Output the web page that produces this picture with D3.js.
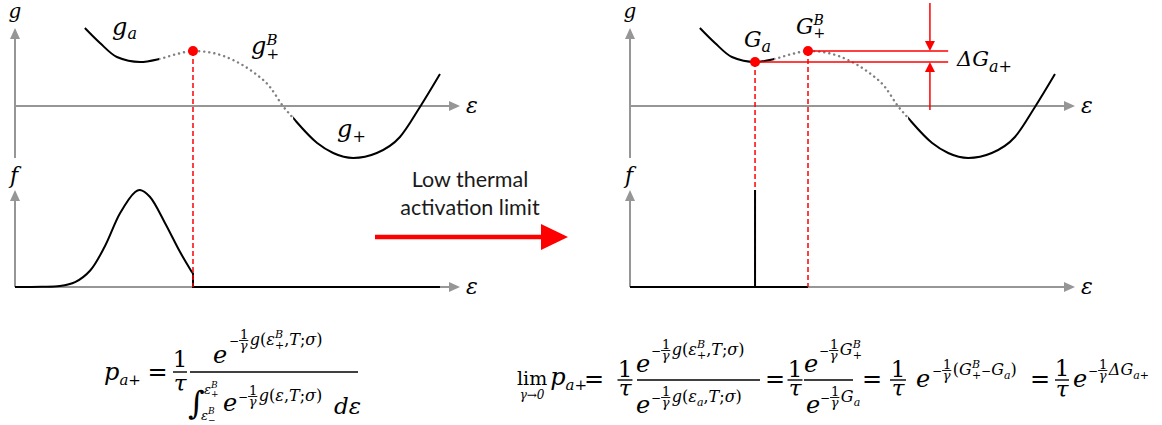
<!DOCTYPE html>
<html><head><meta charset="utf-8">
<script src="https://cdn.jsdelivr.net/npm/d3@7"></script>
<style>
html,body{margin:0;padding:0;background:#fff;}
svg{display:block;}
.m{font-family:"DejaVu Serif","Liberation Serif",serif;}
.s{font-family:Lato,"Open Sans",sans-serif;}
</style></head><body>
<svg id="fig" width="1162" height="425"></svg>
<script>
// Free-energy landscape g(ε), sampled along the curve as (ε, g)
const gCurve = [[1.57,7.8],[1.91,6.3],[2.29,4.9],[2.81,4.4],[3.24,4.7],[3.64,5.2],[4.0,5.5],[4.45,5.3],[4.9,4.6],
  [5.35,3.4],[5.73,1.9],[6.02,0],[6.25,-1.2],[6.79,-3.7],[7.15,-4.7],[7.6,-5.2],[8.13,-4.7],[8.65,-3.1],[9.1,-0.1],[9.55,3.2]];
// ε ranges drawn solid (the two wells) and dotted (the barrier)
const solidRanges = [[1.5, 3.24], [6.25, 9.6]];
const dottedRange = [3.24, 6.25];
// Distribution f(ε) at finite temperature, cut off at the barrier
const fDensity = [[0,0],[0.6,0.002],[1.01,0.01],[1.35,0.05],[1.69,0.17],[2.02,0.42],[2.36,0.76],[2.70,0.98],
  [2.81,1.0],[3.03,0.93],[3.37,0.66],[3.71,0.36],[3.98,0.15]];
const fTail = [[3.98,0.15],[4.0,0.14],[4.0,0],[9.55,0]];
// Well minimum (G_a), barrier top (G_+^B) and the delta spike height
const stateA = [2.81, 4.4];
const saddle = [4.0, 5.5];
const spikeHeight = 1.0;
// Axis extents
const epsMax = 10, gLow = -5.2, gHigh = 7.8, fHigh = 1.0;
const panelLeft = [15, 630];

const svg = d3.select("#fig");
const GRAY = "#969696", RED = "#ff0000";

const yG = d3.scaleLinear().domain([-6, 8]).range([166, 26]);
const yF = d3.scaleLinear().domain([0, 1]).range([287, 190]);
const defs = svg.append("defs");

function arrow(g, x1, y1, x2, y2, color, w, len, half) {
  const dx = x2 - x1, dy = y2 - y1, L = Math.hypot(dx, dy);
  const ux = dx / L, uy = dy / L;
  const bx = x2 - ux * len, by = y2 - uy * len;
  g.append("line").attr("x1", x1).attr("y1", y1).attr("x2", bx + ux).attr("y2", by + uy)
    .attr("stroke", color).attr("stroke-width", w);
  g.append("path")
    .attr("d", `M${x2},${y2}L${bx - uy * half},${by + ux * half}L${bx + uy * half},${by - ux * half}Z`)
    .attr("fill", color);
}

function txt(g, x, y, s, size, opt = {}) {
  return g.append("text").attr("class", opt.sans ? "s" : "m").attr("x", x).attr("y", y)
    .attr("font-size", size).attr("font-style", opt.up ? "normal" : "italic")
    .attr("text-anchor", opt.anchor || "start").attr("fill", opt.fill || "#000").text(s);
}
const W = sel => sel.node().getComputedTextLength();

// Lays out a row of math pieces left to right from (x, y)
function run(g, x, y, items) {
  let cx = x;
  items.forEach(it => {
    if (it.gap) { cx += it.gap; return; }
    if (it.frac) {
      const [n, d] = it.frac, s = it.s, bar = y - it.axis;
      const tn = txt(g, 0, bar - 1.5, n, s, { up: true, anchor: "middle" });
      const td = txt(g, 0, bar + s * 0.7, d, s, { anchor: "middle" });
      const w = Math.max(W(tn), W(td)) + 1;
      tn.attr("x", cx + w / 2 + 0.5); td.attr("x", cx + w / 2);
      g.append("line").attr("x1", cx).attr("x2", cx + w).attr("y1", bar).attr("y2", bar)
        .attr("stroke", "#000").attr("stroke-width", 0.9);
      cx += w + 1.5; return;
    }
    if (it.sup != null || it.sub != null) {
      let w = 0;
      if (it.sup != null) w = Math.max(w, W(txt(g, cx, y + it.supDy, it.sup, it.s, { up: it.supUp })));
      if (it.sub != null) w = Math.max(w, W(txt(g, cx, y + it.subDy, it.sub, it.s, { up: it.subUp })));
      cx += w; return;
    }
    const t = txt(g, cx, y + (it.dy || 0), it.t, it.s, { up: it.up });
    cx += W(t) + (it.after || 0);
  });
  return cx;
}
function hbar(g, x1, x2, y, w = 1.4) {
  g.append("line").attr("x1", x1).attr("x2", x2).attr("y1", y).attr("y2", y)
    .attr("stroke", "#000").attr("stroke-width", w);
}
function oneOverTau(g, cx, barY, half, numBase, denBase, size) {
  txt(g, cx, numBase, "1", size, { up: true, anchor: "middle" });
  hbar(g, cx - half, cx + half, barY);
  txt(g, cx, denBase, "τ", size, { anchor: "middle" });
}

// ---------- the two landscape panels ----------
panelLeft.forEach((x0, i) => {
  const g = svg.append("g");
  const x = d3.scaleLinear().domain([0, 10]).range([x0, x0 + 445]);
  const lineG = d3.line().x(d => x(d[0])).y(d => yG(d[1])).curve(d3.curveMonotoneX);
  const lineF = d3.line().x(d => x(d[0])).y(d => yF(d[1])).curve(d3.curveCatmullRom.alpha(0.5));
  const lineLin = d3.line().x(d => x(d[0])).y(d => yF(d[1]));

  // axes
  arrow(g, x0, yG(gLow), x0, yG(gHigh), GRAY, 2, 11, 5);
  arrow(g, x0, yG(0), x(epsMax), yG(0), GRAY, 2, 11, 5);
  arrow(g, x0, yF(0), x0, yF(fHigh), GRAY, 2, 11, 5);
  arrow(g, x0, yF(0), x(epsMax), yF(0), GRAY, 2, 11, 5);

  txt(g, x0, 18, "g", 20, { anchor: "middle" });
  txt(g, x0 - 1, 183, "f", 22, { anchor: "middle" });
  txt(g, x(epsMax) + 6, 113, "ε", 22);
  txt(g, x(epsMax) + 6, 294, "ε", 22);

  // g(ε) curve: one smooth path, clipped into solid wells and a dotted barrier
  const clipRect = (id, r) => defs.append("clipPath").attr("id", id).append("rect")
    .attr("x", x(r[0])).attr("width", x(r[1]) - x(r[0])).attr("y", 0).attr("height", 200);
  solidRanges.forEach((r, k) => {
    clipRect(`solid${i}${k}`, r);
    g.append("path").attr("d", lineG(gCurve)).attr("clip-path", `url(#solid${i}${k})`)
      .attr("fill", "none").attr("stroke", "#000").attr("stroke-width", 2);
  });
  clipRect(`dot${i}`, dottedRange);
  g.append("path").attr("d", lineG(gCurve)).attr("clip-path", `url(#dot${i})`).attr("fill", "none")
    .attr("stroke", "#808080").attr("stroke-width", 2.4).attr("stroke-linecap", "round")
    .attr("stroke-dasharray", "0.1,5");

  if (i === 0) {
    // f(ε): truncated bell
    g.append("path").attr("d", lineF(fDensity)).attr("fill", "none").attr("stroke", "#000").attr("stroke-width", 2);
    g.append("path").attr("d", lineLin(fTail)).attr("fill", "none").attr("stroke", "#000").attr("stroke-width", 2);
    g.append("line").attr("x1", x(saddle[0])).attr("x2", x(saddle[0]))
      .attr("y1", yG(saddle[1])).attr("y2", yF(0))
      .attr("stroke", RED).attr("stroke-width", 1.5).attr("stroke-dasharray", "5,3");
    g.append("circle").attr("cx", x(saddle[0])).attr("cy", yG(saddle[1])).attr("r", 5).attr("fill", RED);

    run(g, 112, 35, [{ t: "g", s: 24 }, { t: "a", s: 16, dy: 4 }]);
    run(g, 251, 54, [{ t: "g", s: 24 }, { sup: "B", sub: "+", s: 15, supDy: -9, subDy: 5, subUp: true }]);
    run(g, 337, 137, [{ t: "g", s: 24 }, { t: "+", s: 16, dy: 5, up: true }]);
  } else {
    // f(ε) collapses to a spike at the well minimum
    g.append("path").attr("d", lineLin([[0, 0], [saddle[0], 0]])).attr("fill", "none").attr("stroke", "#000").attr("stroke-width", 2);

    // reference levels and ΔG arrows
    const xEnd = x(7.15), xArr = x(6.74);
    [stateA, saddle].forEach(p => {
      g.append("line").attr("x1", x(p[0])).attr("x2", xEnd).attr("y1", yG(p[1])).attr("y2", yG(p[1]))
        .attr("stroke", RED).attr("stroke-width", 1.5);
      g.append("line").attr("x1", x(p[0])).attr("x2", x(p[0]))
        .attr("y1", yG(p[1])).attr("y2", yF(0))
        .attr("stroke", RED).attr("stroke-width", 1.5).attr("stroke-dasharray", "5,3");
    });
    g.append("line").attr("x1", x(stateA[0])).attr("x2", x(stateA[0]))
      .attr("y1", yF(0)).attr("y2", yF(spikeHeight)).attr("stroke", "#000").attr("stroke-width", 2);
    arrow(g, xArr, 3, xArr, yG(saddle[1]), RED, 1.5, 10, 5);
    arrow(g, xArr, yG(-0.4), xArr, yG(stateA[1]), RED, 1.5, 10, 5);
    [stateA, saddle].forEach(p => g.append("circle").attr("cx", x(p[0])).attr("cy", yG(p[1])).attr("r", 5).attr("fill", RED));

    run(g, 744, 47, [{ t: "G", s: 22 }, { t: "a", s: 16, dy: 5 }]);
    run(g, 796, 34, [{ t: "G", s: 22 }, { sup: "B", sub: "+", s: 14, supDy: -9, subDy: 4, subUp: true }]);
    run(g, 957, 66, [{ t: "Δ", s: 21 }, { t: "G", s: 21 }, { t: "a", s: 16, dy: 6 }, { t: "+", s: 16, dy: 6, up: true }]);
  }
});

// ---------- transition arrow ----------
const mid = svg.append("g");
txt(mid, 470, 187, "Low thermal", 21.5, { up: true, anchor: "middle", sans: true, fill: "#1a1a1a" });
txt(mid, 470, 215, "activation limit", 21.5, { up: true, anchor: "middle", sans: true, fill: "#1a1a1a" });
arrow(mid, 375, 237, 568, 237, RED, 4.5, 27, 13);

// ---------- formulas ----------
const F = svg.append("g");
const minus = s => ({ t: "−", s, up: true });
const oneGamma = { frac: ["1", "γ"], s: 13, axis: 4.5 };
const S = 16, SS = 11;

// p_{a+} = 1/τ · e^{-g(ε_+^B)/γ} / ∫ e^{-g(ε)/γ} dε
run(F, 104, 380, [{ t: "p", s: 24 }, { t: "a", s: 15, dy: 5 }, { t: "+", s: 15, dy: 5, up: true }]);
txt(F, 157.5, 380, "=", 24, { up: true, anchor: "middle" });
oneOverTau(F, 180, 372, 7, 367, 391, 23);
hbar(F, 190, 358, 372);
txt(F, 213, 363, "e", 24);
run(F, 229, 345, [minus(12), oneGamma, { t: "g", s: S }, { t: "(", s: S, up: true }, { t: "ε", s: S },
  { sup: "B", sub: "+", s: SS, supDy: -7, subDy: 4, subUp: true }, { t: ",", s: S, up: true }, { t: "T", s: S },
  { t: ";", s: S, up: true }, { t: "σ", s: S }, { t: ")", s: S, up: true }]);
txt(F, 188, 414, "∫", 32, { up: true });
run(F, 204, 394, [{ t: "ε", s: 13 }, { sup: "B", sub: "+", s: 9, supDy: -6, subDy: 3, subUp: true }]);
run(F, 201, 420, [{ t: "ε", s: 13 }, { sup: "B", sub: "−", s: 9, supDy: -6, subDy: 3, subUp: true }]);
txt(F, 223, 411, "e", 24);
run(F, 238, 401, [minus(12), oneGamma, { t: "g", s: S }, { t: "(", s: S, up: true }, { t: "ε", s: S },
  { t: ",", s: S, up: true }, { t: "T", s: S }, { t: ";", s: S, up: true }, { t: "σ", s: S }, { t: ")", s: S, up: true }]);
txt(F, 334, 414, "dε", 23);

// lim_{γ→0} p_{a+} = ... = 1/τ e^{-ΔG_{a+}/γ}
const limEnd = run(F, 517, 385, [{ t: "lim", s: 19, up: true }]);
txt(F, (517 + limEnd) / 2, 399, "γ→0", 12, { anchor: "middle" });
run(F, Math.max(546, limEnd + 3), 385, [{ t: "p", s: 24 }, { t: "a", s: 15, dy: 5 }, { t: "+", s: 15, dy: 5, up: true }]);
txt(F, 594, 387, "=", 24, { up: true, anchor: "middle" });
oneOverTau(F, 625, 380, 7.5, 377, 396, 23);
hbar(F, 637, 760, 380);
txt(F, 636, 372, "e", 24);
run(F, 651, 355, [minus(12), oneGamma, { t: "g", s: S }, { t: "(", s: S, up: true }, { t: "ε", s: S },
  { sup: "B", sub: "+", s: SS, supDy: -7, subDy: 4, subUp: true }, { t: ",", s: S, up: true }, { t: "T", s: S },
  { t: ";", s: S, up: true }, { t: "σ", s: S }, { t: ")", s: S, up: true }]);
txt(F, 636, 413, "e", 24);
run(F, 651, 402, [minus(12), oneGamma, { t: "g", s: S }, { t: "(", s: S, up: true }, { t: "ε", s: S },
  { t: "a", s: SS, dy: 4 }, { t: ",", s: S, up: true }, { t: "T", s: S }, { t: ";", s: S, up: true }, { t: "σ", s: S }, { t: ")", s: S, up: true }]);

txt(F, 775, 387, "=", 24, { up: true, anchor: "middle" });
oneOverTau(F, 795, 380, 7.5, 377, 396, 23);
hbar(F, 804, 853, 380);
txt(F, 804, 372, "e", 24);
run(F, 819, 355, [minus(12), oneGamma, { t: "G", s: S }, { sup: "B", sub: "+", s: SS, supDy: -7, subDy: 4, subUp: true }]);
txt(F, 806, 413, "e", 24);
run(F, 820, 402, [minus(12), oneGamma, { t: "G", s: S }, { t: "a", s: SS, dy: 4 }]);

txt(F, 872, 387, "=", 24, { up: true, anchor: "middle" });
oneOverTau(F, 898, 380, 8, 377, 396, 23);
txt(F, 916, 387, "e", 24);
run(F, 932, 375, [minus(12), oneGamma, { t: "(", s: S, up: true }, { t: "G", s: S },
  { sup: "B", sub: "+", s: SS, supDy: -7, subDy: 4, subUp: true }, minus(12), { t: "G", s: S }, { t: "a", s: SS, dy: 4 },
  { t: ")", s: S, up: true }]);

txt(F, 1040, 387, "=", 24, { up: true, anchor: "middle" });
oneOverTau(F, 1062, 380, 7, 376, 397, 23);
txt(F, 1073, 387, "e", 24);
run(F, 1088, 375, [minus(12), oneGamma, { t: "Δ", s: S }, { t: "G", s: S }, { t: "a", s: SS, dy: 4 }, { t: "+", s: SS, dy: 4, up: true }]);
</script>
</body></html>
